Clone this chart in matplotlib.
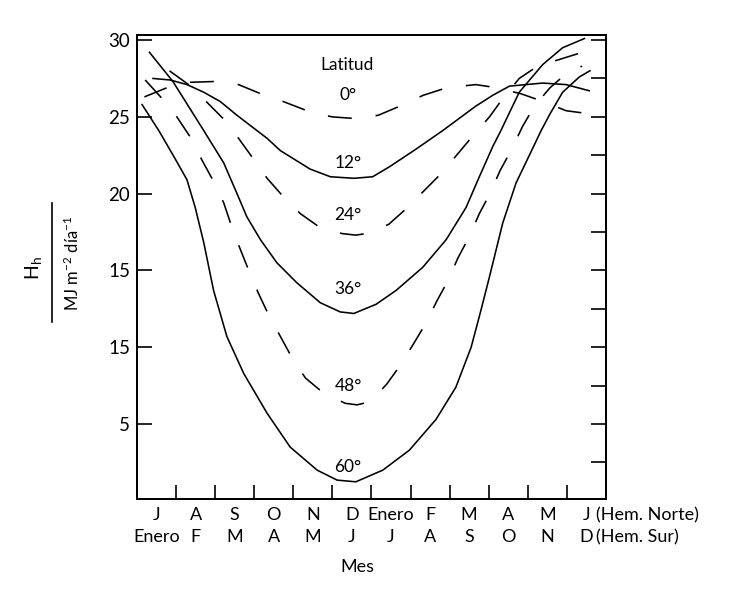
import matplotlib
matplotlib.use("Agg")
import matplotlib.pyplot as plt
from matplotlib.lines import Line2D

plt.rcParams['font.family'] = ['Lato', 'DejaVu Sans']
plt.rcParams['mathtext.fontset'] = 'custom'
plt.rcParams['mathtext.rm'] = 'Lato'
plt.rcParams['mathtext.it'] = 'Lato:italic'

# x = position along the month axis (0 = left edge, 12 = right edge), y = H_h (MJ m-2 dia-1)
m_0 = [0.19, 0.77, 1.36, 1.97, 2.60, 3.17, 3.74, 4.35, 4.99, 5.53, 6.17, 6.73,
       7.32, 7.93, 8.67, 9.19, 9.83, 10.39, 10.98, 11.57]
h_0 = [26.3, 26.9, 27.25, 27.3, 27.1, 26.5, 26.0, 25.4, 25.0, 24.9, 25.1, 25.7,
       26.4, 26.9, 27.1, 26.9, 26.5, 26.0, 25.4, 25.2]

m_12 = [0.41, 0.85, 1.28, 1.71, 2.13, 2.56, 3.33, 3.67, 4.43, 4.95, 5.55, 6.03,
        6.46, 7.14, 7.82, 8.67, 9.10, 9.53, 10.38, 10.98, 11.57]
h_12 = [27.5, 27.4, 27.1, 26.6, 26.0, 25.1, 23.6, 22.8, 21.6, 21.1, 21.0, 21.1,
        21.75, 22.9, 24.1, 25.7, 26.4, 27.0, 27.2, 27.1, 26.7]

m_24 = [0.83, 1.32, 1.77, 2.20, 2.60, 2.94, 3.33, 3.71, 4.18, 4.68, 5.25, 5.60,
        5.86, 6.44, 6.88, 7.35, 7.78, 8.21, 8.59, 9.02, 9.36, 9.78, 10.25, 10.89, 11.39]
h_24 = [28.0, 27.1, 26.0, 24.9, 23.6, 22.4, 21.0, 19.9, 18.7, 17.8, 17.4, 17.3,
        17.4, 18.0, 19.0, 20.2, 21.3, 22.6, 23.75, 25.0, 26.2, 27.5, 28.3, 28.8, 29.2]

m_36 = [0.32, 0.92, 1.71, 2.22, 2.56, 2.81, 3.16, 3.58, 4.09, 4.69, 5.20, 5.55,
        6.12, 6.63, 7.31, 7.91, 8.42, 8.76, 9.10, 9.31, 9.78, 10.38, 10.89, 11.45]
h_36 = [29.2, 27.3, 24.1, 22.0, 20.0, 18.5, 17.0, 15.5, 14.2, 12.9, 12.3, 12.2,
        12.8, 13.7, 15.2, 17.0, 19.1, 21.1, 23.05, 24.1, 26.6, 28.4, 29.5, 30.1]

m_48 = [0.21, 0.64, 1.02, 1.36, 1.66, 1.96, 2.22, 2.43, 2.64, 2.86, 3.11, 3.37,
        3.67, 3.97, 4.31, 4.78, 5.33, 5.63, 5.97, 6.39, 6.73, 7.07, 7.40, 7.67,
        7.95, 8.21, 8.50, 8.76, 9.03, 9.29, 9.57, 9.87, 10.17, 10.57, 11.02, 11.39]
h_48 = [27.4, 26.2, 25.0, 23.7, 22.2, 20.8, 19.4, 17.8, 16.4, 15.0, 13.5, 12.1,
        10.7, 9.3, 8.0, 7.0, 6.35, 6.25, 6.45, 7.6, 8.8, 10.2, 11.6, 13.0,
        14.3, 15.8, 17.2, 18.7, 20.0, 21.5, 22.8, 24.4, 25.7, 26.9, 27.9, 28.3]

m_60 = [0.13, 0.56, 0.97, 1.28, 1.49, 1.71, 1.96, 2.30, 2.73, 3.33, 3.92, 4.61,
        5.12, 5.60, 6.29, 6.97, 7.65, 8.16, 8.55, 8.80, 9.02, 9.36, 9.70, 10.04,
        10.34, 10.57, 10.89, 11.32, 11.59]
h_60 = [25.8, 24.1, 22.3, 20.9, 19.1, 16.8, 13.7, 10.7, 8.3, 5.7, 3.5, 2.0,
        1.35, 1.24, 2.0, 3.3, 5.3, 7.4, 10.0, 12.4, 14.6, 18.1, 20.7, 22.5,
        24.1, 25.2, 26.6, 27.6, 28.0]

lat_labels = ['0°', '12°', '24°', '36°', '48°', '60°']
lat_label_y = [26.4, 22.0, 18.6, 13.8, 7.5, 2.2]

meses_norte = ['J', 'A', 'S', 'O', 'N', 'D', 'Enero', 'F', 'M', 'A', 'M', 'J']
meses_sur = ['Enero', 'F', 'M', 'A', 'M', 'J', 'J', 'A', 'S', 'O', 'N', 'D']

ytick_vals = [5, 10, 15, 20, 25, 30]
ytick_text = ['5', '15', '15', '20', '25', '30']   # as printed in the original figure

fig = plt.figure(figsize=(7.38, 5.93), dpi=100)
ax = fig.add_axes([0.1856, 0.1585, 0.6355, 0.7825])

dash = (0, (15, 15))
curves = [(m_0, h_0, dash), (m_12, h_12, '-'), (m_24, h_24, dash),
          (m_36, h_36, '-'), (m_48, h_48, dash), (m_60, h_60, '-')]
for mx, hy, ls in curves:
    ax.plot(mx, hy, color='black', lw=1.15, linestyle=ls)

ax.set_xlim(0, 12)
ax.set_ylim(0.12, 30.33)

# latitude labels in the middle of the curves
ax.text(5.37, 28.4, 'Latitud', ha='center', va='center', fontsize=12.5)
for lab, ly in zip(lat_labels, lat_label_y):
    ax.text(5.40, ly, lab, ha='center', va='center', fontsize=12.5)

# axes frame and ticks
for s in ax.spines.values():
    s.set_linewidth(1.4)

ax.set_yticks(ytick_vals)
ax.set_yticklabels(ytick_text)
ax.tick_params(axis='y', direction='in', length=10.5, width=1.2, labelsize=13.5, pad=5)

ax.set_xticks([i + 0.5 for i in range(12)])
ax.set_xticklabels([n + '\n' + s for n, s in zip(meses_norte, meses_sur)])
ax.set_xticks(range(1, 12), minor=True)
ax.tick_params(axis='x', which='major', length=0, labelsize=13, pad=6)
ax.tick_params(axis='x', which='minor', direction='in', length=10, width=1.2)
for t in ax.get_xticklabels():
    t.set_linespacing(1.45)

ax2 = ax.twinx()
ax2.set_ylim(ax.get_ylim())
ax2.set_yticks([2.5 * k for k in range(1, 13)])
ax2.set_yticklabels([])
ax2.tick_params(axis='y', direction='in', length=10.5, width=1.2)
for s in ax2.spines.values():
    s.set_linewidth(1.4)

fig.text(596 / 738, 1 - 515 / 593, '(Hem. Norte)', ha='left', va='center', fontsize=13)
fig.text(596 / 738, 1 - 537 / 593, '(Hem. Sur)', ha='left', va='center', fontsize=13)
fig.text(357 / 738, 1 - 567 / 593, 'Mes', ha='center', va='center', fontsize=13)

# y axis label drawn as a fraction
fig.text(33 / 738, 1 - 268 / 593, r'H$_\mathrm{h}$', rotation=90, ha='center', va='center', fontsize=14)
fig.add_artist(Line2D([52 / 738, 52 / 738], [1 - 322 / 593, 1 - 203 / 593],
                      transform=fig.transFigure, color='black', lw=1.2))
fig.text(72 / 738, 1 - 263 / 593, r'MJ m$^{-2}$ día$^{-1}$', rotation=90, ha='center', va='center', fontsize=12)

fig.savefig('out.png', dpi=100)
